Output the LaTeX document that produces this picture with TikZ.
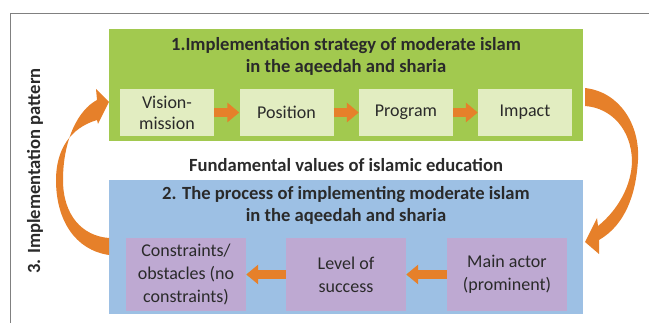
\documentclass[tikz,border=0pt]{standalone}
\usepackage{fontspec}
\setmainfont{Carlito}
\usetikzlibrary{arrows.meta}
\definecolor{leaf}{HTML}{A2C94F}
\definecolor{leaflight}{HTML}{E2EDC1}
\definecolor{sky}{HTML}{9DC0E4}
\definecolor{lilac}{HTML}{BEA9D2}
\definecolor{tangerine}{HTML}{E6802A}
\definecolor{ink}{HTML}{2A2A2A}

\begin{document}
\begin{tikzpicture}[x=1pt,y=-1pt,
  panel/.style={minimum width=474pt, inner sep=0pt},
  stagebox/.style={fill=leaflight, minimum width=94pt, minimum height=47pt, inner sep=0pt,
    align=center, text=ink, font=\fontsize{18}{21}\selectfont},
  actbox/.style={fill=lilac, minimum width=120pt, minimum height=73pt, inner sep=0pt,
    align=center, text=ink, font=\fontsize{18}{23}\selectfont},
  heading/.style={align=center, text=ink, font=\bfseries\fontsize{18.6}{21.5}\selectfont},
  flow/.style={draw=tangerine, line width=9pt, -{Triangle[width=19pt,length=12pt]}},
  curvearrow/.style={fill=tangerine}]
\useasboundingbox (0,0) rectangle (649,323);
\draw[line width=1.2pt, gray] (10.5,323) -- (10.5,13.5) -- (649,13.5);
\node[panel, fill=leaf, minimum height=112pt] (strategy) at (346,85) {};
\node[heading] (strategyhead) at (346,56.5) {1.Implementation strategy of moderate islam\\in the aqeedah and sharia};
\foreach \name/\x/\txt in {vision/167/{Vision-\\mission}, position/286.5/Position, program/406/Program, impact/525/Impact}
    \node[stagebox] (\name) at (\x,112.5) {\txt};
\foreach \a/\b in {vision/position, position/program, program/impact}
    \draw[flow] (\a) -- (\b);
\node[heading] (values) at (346,165) {Fundamental values of islamic education};
\node[panel, fill=sky, minimum height=134pt] (process) at (346,247) {};
\node[heading] (processhead) at (346,205.5) {2. The process of implementing moderate islam\\in the aqeedah and sharia};
\node[actbox] (obstacle) at (186,274.5) {Constraints/\\obstacles (no\\constraints)};
\node[actbox] (success) at (346,274.5) {Level of\\success};
\node[actbox] (actor) at (507,274.5) {Main actor\\(prominent)};
\draw[flow] (actor) -- (success);
\draw[flow] (success) -- (obstacle);
\node[heading, rotate=90] (pattern) at (35,171) {3. Implementation pattern};
\fill[curvearrow] (585,88) .. controls (620,92) and (640,125) .. (638,160)
    .. controls (636,195) and (625,225) .. (599,240)
    -- (599,254) -- (585,242) -- (597,218) -- (598,226)
    .. controls (618,210) and (632,185) .. (632,160)
    .. controls (631,130) and (612,108) .. (585,106) -- cycle;
\fill[curvearrow] (109,255) .. controls (75,250) and (56,220) .. (56,180)
    .. controls (56,150) and (70,128) .. (97,120)
    -- (98,124) -- (109,102) -- (96,89) -- (97,100)
    .. controls (78,110) and (63,140) .. (63,180)
    .. controls (63,215) and (82,236) .. (109,238) -- cycle;
\end{tikzpicture}
\end{document}
